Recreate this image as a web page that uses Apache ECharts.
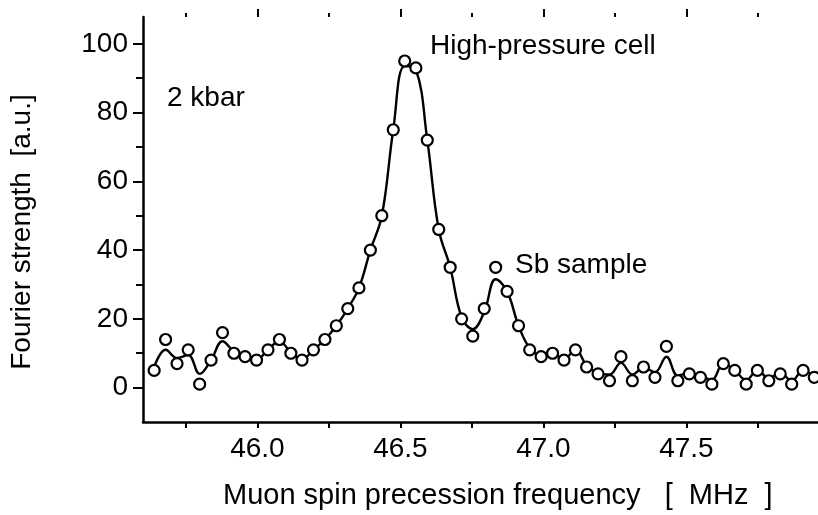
<!DOCTYPE html>
<html>
<head>
<meta charset="utf-8">
<script src="https://cdn.jsdelivr.net/npm/echarts@6/dist/echarts.min.js"></script>
<style>
  html, body { margin: 0; padding: 0; background: #fff; }
  #chart { width: 818px; height: 515px; }
</style>
</head>
<body>
<div id="chart"></div>
<script>
// frequencies [MHz] of the measured points
var freq = [45.639, 45.679, 45.719, 45.758, 45.798, 45.838, 45.878, 45.918, 45.957, 45.997,
	46.037, 46.077, 46.117, 46.156, 46.196, 46.236, 46.276, 46.316, 46.355, 46.395,
	46.435, 46.475, 46.515, 46.554, 46.594, 46.634, 46.674, 46.714, 46.753, 46.793,
	46.833, 46.873, 46.913, 46.952, 46.992, 47.032, 47.072, 47.112, 47.151, 47.191,
	47.231, 47.271, 47.311, 47.350, 47.390, 47.430, 47.470, 47.510, 47.549, 47.589,
	47.629, 47.669, 47.709, 47.748, 47.788, 47.828, 47.868, 47.908, 47.947];
// Fourier strength, open circles
var strength = [5, 14, 7, 11, 1, 8, 16, 10, 9, 8,
	11, 14, 10, 8, 11, 14, 18, 23, 29, 40,
	50, 75, 95, 93, 72, 46, 35, 20, 15, 23,
	35, 28, 18, 11, 9, 10, 8, 11, 6, 4,
	2, 9, 2, 6, 3, 12, 2, 4, 3, 1,
	7, 5, 1, 5, 2, 4, 1, 5, 3];
// smooth fitted curve
var fit = [6, 11, 8.6, 9.5, 4, 8, 13.5, 10.5, 9.3, 8.3,
	11, 13.5, 10.2, 8.3, 11, 14, 18, 23, 29, 40,
	50, 75, 93.5, 92.5, 72, 46, 35, 20.5, 17, 22,
	31.5, 28, 18, 11.5, 9.3, 10, 8.3, 11, 6.5, 4.3,
	3.8, 7.2, 3.8, 5.8, 4.5, 9, 3.5, 4.3, 3.3, 2.3,
	7, 5, 2.2, 5, 2.8, 4.3, 2, 5, 3.3];

var xMajor = [46.0, 46.5, 47.0, 47.5];
var xMinor = [45.75, 46.25, 46.75, 47.25, 47.75];
var yMajor = [0, 20, 40, 60, 80, 100];
var yMinor = [10, 30, 50, 70, 90];

var font = "'Liberation Sans', Arial, Helvetica, sans-serif";
var fs = 28;

var myChart = echarts.init(document.getElementById('chart'));

function zip(xs, ys) {
	return xs.map(function (x, i) { return [x, ys[i]]; });
}

var xBase = { type: 'value', min: 45.6, max: 47.96, splitLine: { show: false } };
var yBase = { type: 'value', min: -10, max: 107.8, splitLine: { show: false } };

option = {
	animation: false,
	backgroundColor: '#fff',
	grid: { left: 143, right: 0, top: 17, bottom: 93 },
	xAxis: [
		Object.assign({}, xBase, {
			position: 'bottom',
			axisLine: { show: true, onZero: false, lineStyle: { color: '#000', width: 2.5 } },
			axisTick: { show: true, customValues: xMajor.concat(xMinor), length: 6, lineStyle: { color: '#000', width: 2 } },
			axisLabel: {
				customValues: xMajor, margin: 13, color: '#000', fontFamily: font, fontSize: fs,
				formatter: function (v) { return v.toFixed(1); }
			}
		}),
		Object.assign({}, xBase, {
			position: 'top',
			axisLine: { show: false, onZero: false },
			axisTick: { show: true, customValues: xMajor, length: 8, lineStyle: { color: '#000', width: 2 } },
			axisLabel: { show: false }
		}),
		Object.assign({}, xBase, {
			position: 'top',
			axisLine: { show: false, onZero: false },
			axisTick: { show: true, customValues: xMinor, length: 4, lineStyle: { color: '#000', width: 2 } },
			axisLabel: { show: false }
		})
	],
	yAxis: [
		Object.assign({}, yBase, {
			position: 'left',
			axisLine: { show: true, onZero: false, lineStyle: { color: '#000', width: 2.5 } },
			axisTick: { show: true, customValues: yMajor, length: 10, lineStyle: { color: '#000', width: 2 } },
			axisLabel: { customValues: yMajor, margin: 15, color: '#000', fontFamily: font, fontSize: fs }
		}),
		Object.assign({}, yBase, {
			position: 'left',
			axisLine: { show: false, onZero: false },
			axisTick: { show: true, customValues: yMinor, length: 7, lineStyle: { color: '#000', width: 2 } },
			axisLabel: { show: false }
		})
	],
	graphic: [
		{
			type: 'text', left: 167, top: 84,
			style: { text: '2 kbar', fill: '#000', font: fs + 'px ' + font }
		},
		{
			type: 'text', left: 430, top: 32,
			style: { text: 'High-pressure cell', fill: '#000', font: fs + 'px ' + font }
		},
		{
			type: 'text', left: 515, top: 251,
			style: { text: 'Sb sample', fill: '#000', font: fs + 'px ' + font }
		},
		{
			type: 'text', left: 223, top: 481,
			style: { text: 'Muon spin precession frequency   [  MHz  ]', fill: '#000', font: '29px ' + font }
		},
		{
			type: 'text', x: 22, y: 232, rotation: Math.PI / 2,
			style: {
				text: 'Fourier strength  [a.u.]', fill: '#000', font: fs + 'px ' + font,
				align: 'center', verticalAlign: 'middle'
			}
		}
	],
	series: [
		{
			name: 'fit',
			type: 'line',
			smooth: 0.4,
			symbol: 'none',
			data: zip(freq, fit),
			lineStyle: { color: '#000', width: 2.4 },
			z: 2
		},
		{
			name: 'data',
			type: 'scatter',
			symbol: 'circle',
			symbolSize: 11,
			data: zip(freq, strength),
			itemStyle: { color: '#fff', borderColor: '#000', borderWidth: 2.2, opacity: 1 },
			z: 3
		}
	]
};

myChart.setOption(option);
</script>
</body>
</html>
